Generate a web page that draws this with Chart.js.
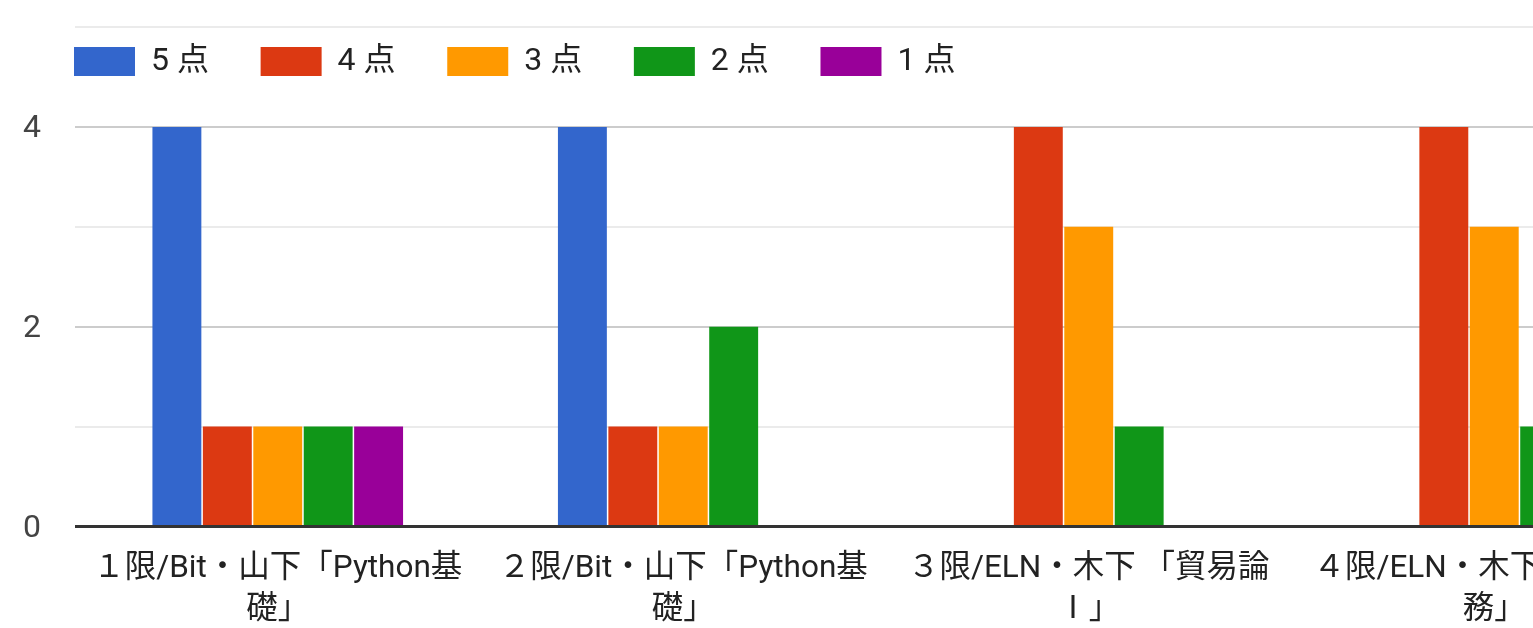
<!DOCTYPE html>
<html><head><meta charset="utf-8">
<script src="https://cdn.jsdelivr.net/npm/chart.js@4/dist/chart.umd.min.js"></script>
<style>
html,body{margin:0;padding:0;background:#fff;overflow:hidden;width:1533px;height:628px;}
#wrap{position:absolute;left:0;top:0;width:1700px;height:628px;}
</style></head><body>
<div id="wrap"><canvas id="c"></canvas></div>
<script>
const categories = [
  ["１限/Bit・山下「Python基", "礎」"],
  ["２限/Bit・山下「Python基", "礎」"],
  ["３限/ELN・木下 「貿易論", "Ⅰ」"],
  ["４限/ELN・木下 「貿易実", "務」"]
];
const seriesNames = ["5 点", "4 点", "3 点", "2 点", "1 点"];
const score5 = [4, 4, 0, 0];
const score4 = [1, 1, 4, 4];
const score3 = [1, 1, 3, 3];
const score2 = [1, 2, 1, 1];
const score1 = [1, 0, 0, 0];
const yLabelTicks = [0, 2, 4];
const colors = ["#3366cc", "#dc3912", "#ff9900", "#109618", "#990099"];

const FONT = "Roboto, 'Noto Sans CJK JP', sans-serif";
const seriesValues = [score5, score4, score3, score2, score1];

// Legend sits inside the plot area (as in the reference): take no layout space, then place it.
const legendShift = {
  id: 'legendShift',
  beforeLayout(chart) {
    const lg = chart.legend;
    if (lg && !lg._noSpace) {
      const f = lg.fit;
      lg.fit = function () { f.call(this); this.height = 0; };
      lg._noSpace = true;
    }
  },
  afterLayout(chart) {
    const lg = chart.legend;
    const P = lg.options.labels.padding;
    lg.left = 74 - P;
    lg.top = 45.5 - P;
    lg.bottom = 110;
    lg.height = lg.bottom - lg.top;
  }
};

new Chart(document.getElementById('c'), {
  type: 'bar',
  data: {
    labels: categories,
    datasets: seriesNames.map((n, i) => ({
      label: n,
      data: seriesValues[i],
      backgroundColor: colors[i],
      borderWidth: 0,
      categoryPercentage: 0.6218,
      barPercentage: 0.97
    }))
  },
  options: {
    responsive: true,
    maintainAspectRatio: false,
    animation: false,
    layout: { padding: { top: 27, left: 0, right: 3, bottom: 0 } },
    plugins: {
      tooltip: { enabled: false },
      legend: {
        position: 'top',
        align: 'start',
        labels: {
          boxWidth: 61,
          boxHeight: 29,
          padding: 51.7,
          color: '#222',
          font: { family: FONT, size: 32 }
        }
      }
    },
    scales: {
      x: {
        grid: { display: false },
        border: { display: false },
        ticks: {
          autoSkip: false,
          maxRotation: 0,
          minRotation: 0,
          padding: 14,
          color: '#222',
          font: { family: FONT, size: 31.5, lineHeight: 1.3 }
        },
        afterFit(s) { s.height = 101.5; s.paddingLeft = 0; s.paddingRight = 0; }
      },
      y: {
        min: 0,
        max: 5,
        border: { display: false },
        grid: {
          drawTicks: false,
          color: (c) => c.tick.value === 0 ? '#333' : (yLabelTicks.includes(c.tick.value) ? '#cccccc' : '#ebebeb'),
          lineWidth: (c) => c.tick.value === 0 ? 3 : 2
        },
        ticks: {
          stepSize: 1,
          padding: 34,
          labelOffset: 2,
          color: '#444',
          font: { family: FONT, size: 32 },
          callback: (v) => yLabelTicks.includes(v) ? String(v) : ''
        },
        afterFit(s) { s.width = 75; s.paddingTop = 0; s.paddingBottom = 0; }
      }
    }
  },
  plugins: [legendShift]
});
</script>
</body></html>
